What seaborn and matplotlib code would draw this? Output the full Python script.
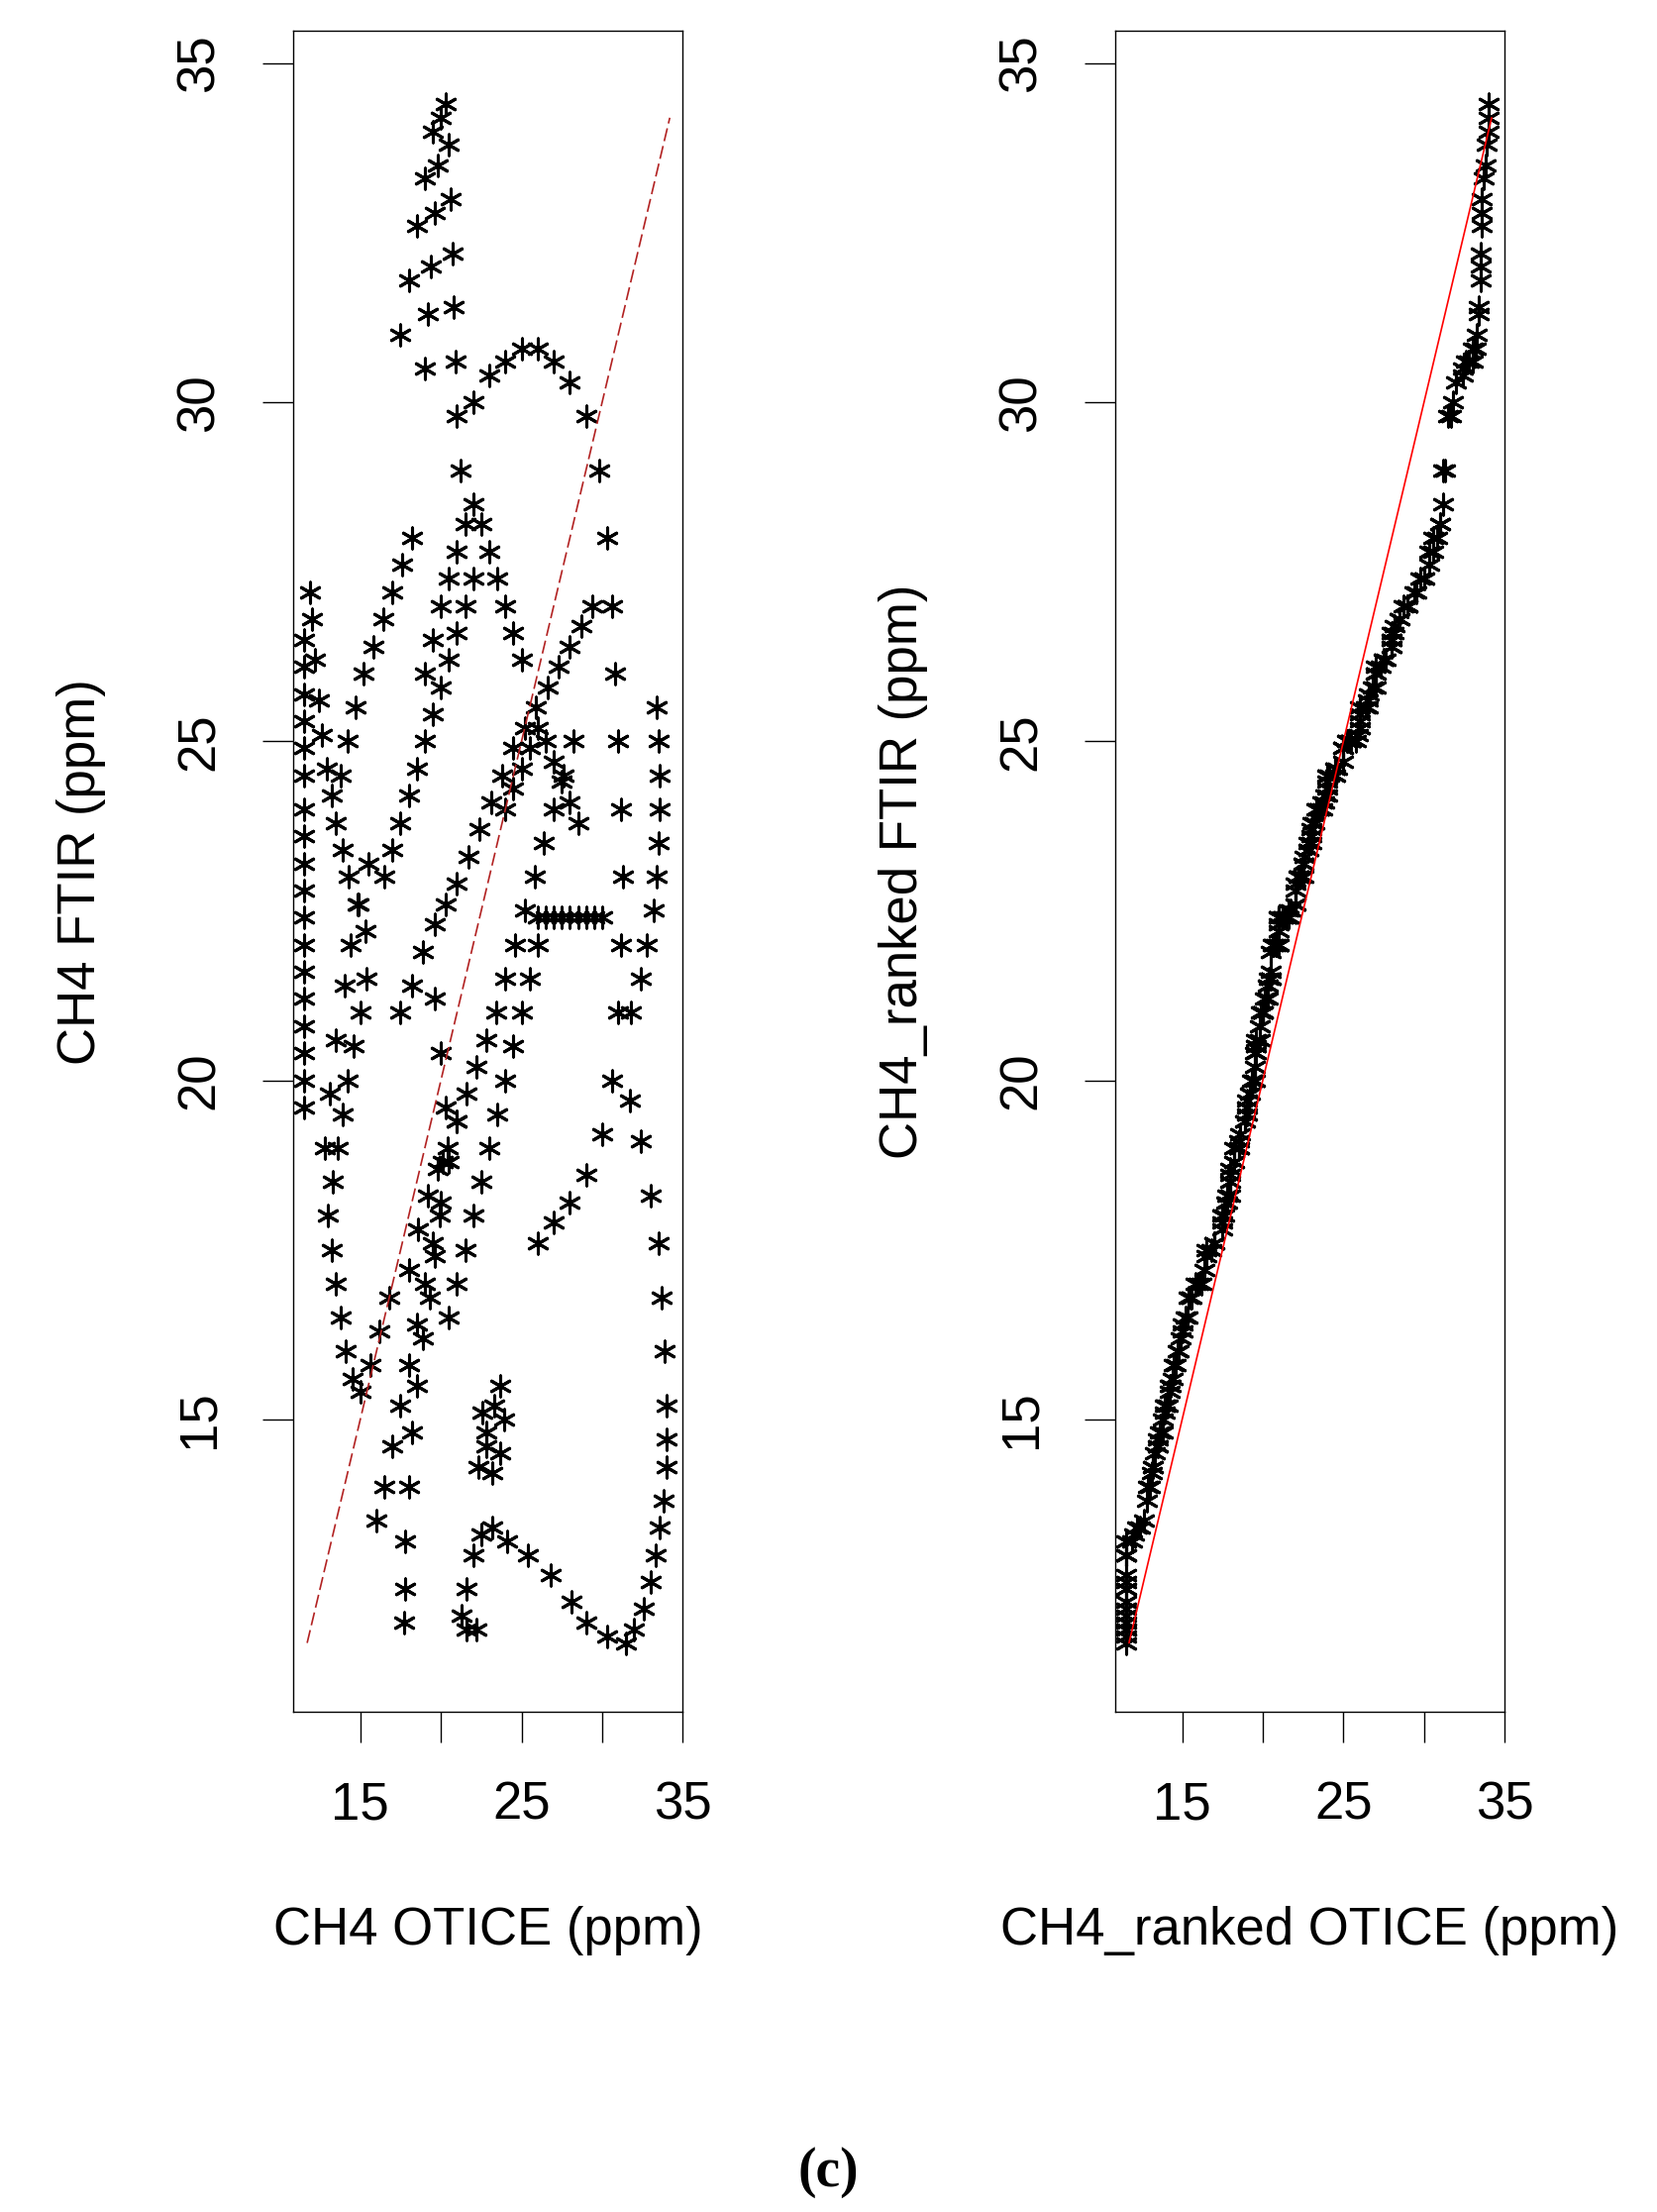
import numpy as np
import pandas as pd
import matplotlib
matplotlib.use("Agg")
import matplotlib.pyplot as plt
import seaborn as sns

sns.set_theme(style="white")
plt.rcParams['font.family'] = ['Liberation Sans', 'DejaVu Sans']
plt.rcParams['text.color'] = 'black'
plt.rcParams['axes.labelcolor'] = 'black'

# Observations (OTICE x, FTIR y) read along the trajectories of the scatter
otice = [
 11.5,11.5,11.5,11.5,11.5,11.5,11.5,11.5,11.5,11.5,11.5,11.5,11.5,11.5,11.5,11.5,11.5,11.5,
 11.9,12.0,12.2,12.4,12.6,12.9,13.2,13.5,13.9,14.3,14.8,15.3,
 17.5,18.0,18.5,19.0,19.5,19.0,19.2,19.4,19.6,19.8,20.0,20.3,20.5,20.6,20.7,20.8,20.9,21.0,21.2,
 22.0,23.0,24.0,25.0,26.0,27.0,28.0,29.0,29.8,30.3,30.6,30.8,31.0,31.2,31.3,31.2,31.0,30.6,30.0,29.0,28.0,27.0,26.0,
 33.4,33.5,33.6,33.6,33.5,33.4,33.2,32.8,32.4,31.8,
 31.7,32.4,33.0,33.5,33.7,33.9,34.0,34.0,34.0,33.8,33.6,33.3,33.0,32.6,32.0,31.5,30.3,
 29.0,28.1,26.8,25.4,24.1,23.2,22.5,22.0,21.6,21.3,21.6,22.2,
 17.7,17.8,17.8,18.0,18.2,18.5,18.9,19.3,19.6,19.9,20.1,20.3,20.0,19.6,
 22.3,22.8,23.3,23.7,23.9,23.7,23.2,22.8,22.6,
 13.0,13.3,13.6,13.9,14.2,14.6,15.0,15.4,13.2,13.5,13.8,14.1,14.5,15.0,15.6,16.2,16.8,12.8,13.1,13.5,14.0,14.4,14.9,15.5,
 13.8,14.2,14.7,15.2,15.8,16.4,17.0,17.6,18.2,
 18.0,18.6,19.2,19.8,20.4,21.0,21.6,22.2,22.8,23.4,24.0,24.6,25.2,25.8,26.4,27.0,27.6,28.2,
 17.5,18.2,18.9,19.6,20.3,21.0,21.7,22.4,23.1,23.8,24.5,25.2,25.9,26.6,27.3,28.0,28.7,29.4,
 19.0,19.5,20.0,20.5,21.0,21.5,22.0,22.5,23.0,23.5,24.0,24.5,25.0,
 26.0,26.5,27.0,27.5,28.0,28.5,29.0,29.5,30.0,
 20.5,21.0,21.5,22.0,22.5,23.0,23.5,24.0,24.5,25.0,25.5,26.0,
 16.0,16.5,17.0,17.5,18.0,18.5,19.0,19.5,20.0,20.5,21.0,
 24.0,24.5,25.0,25.5,26.0,26.5,27.0,27.5,28.0,28.5,
 16.5,17.0,17.5,18.0,18.5,19.0,19.5,20.0,20.5,21.0,21.5,22.0,
]
ftir = [
 26.5,26.1,25.7,25.3,24.9,24.5,24.0,23.6,23.2,22.8,22.4,22.0,21.6,21.2,20.8,20.4,20.0,19.6,
 27.2,26.8,26.2,25.6,25.1,24.6,24.2,23.8,23.4,23.0,22.6,22.2,
 31.0,31.8,32.6,33.3,34.0,30.5,31.3,32.0,32.8,33.5,34.2,34.4,33.8,33.0,32.2,31.4,30.6,29.8,29.0,
 30.0,30.4,30.6,30.8,30.8,30.6,30.3,29.8,29.0,28.0,27.0,26.0,25.0,24.0,23.0,22.0,21.0,20.0,19.2,18.6,18.2,17.9,17.6,
 25.5,25.0,24.5,24.0,23.5,23.0,22.5,22.0,21.5,21.0,
 19.7,19.1,18.3,17.6,16.8,16.0,15.2,14.7,14.3,13.8,13.4,13.0,12.6,12.2,11.9,11.7,11.8,
 12.0,12.3,12.7,13.0,13.2,13.4,13.3,13.0,12.5,12.1,11.9,11.9,
 12.0,12.5,13.2,14.0,14.8,15.5,16.2,16.8,17.4,18.0,18.8,19.6,20.4,21.2,
 14.3,14.8,15.2,15.5,15.0,14.5,14.2,14.6,15.1,
 18.0,18.5,19.0,19.5,20.0,20.5,21.0,21.5,17.5,17.0,16.5,16.0,15.6,15.4,15.8,16.3,16.8,19.0,19.8,20.6,21.4,22.0,22.6,23.2,
 24.5,25.0,25.5,26.0,26.4,26.8,27.2,27.6,28.0,
 17.2,17.8,18.3,18.7,19.0,19.4,19.8,20.2,20.6,21.0,21.5,22.0,22.5,23.0,23.5,24.0,24.5,25.0,
 21.0,21.4,21.9,22.3,22.6,22.9,23.3,23.7,24.1,24.5,24.9,25.2,25.5,25.8,26.1,26.4,26.7,27.0,
 26.0,26.5,27.0,27.4,27.8,28.2,28.5,28.2,27.8,27.4,27.0,26.6,26.2,
 22.4,22.4,22.4,22.4,22.4,22.4,22.4,22.4,22.4,
 16.5,17.0,17.5,18.0,18.5,19.0,19.5,20.0,20.5,21.0,21.5,22.0,
 13.5,14.0,14.6,15.2,15.8,16.4,17.0,17.6,18.2,18.8,19.4,
 24.0,24.3,24.6,24.9,25.2,25.0,24.7,24.4,24.1,23.8,
 23.0,23.4,23.8,24.2,24.6,25.0,25.4,25.8,26.2,26.6,27.0,27.4,
]
ranked_otice = np.sort(otice)
ranked_ftir = np.sort(ftir)

# 1:1 reference line range
line_range = [11.7, 34.2]

x_ticks = [15, 20, 25, 30, 35]
x_ticklabels = ["15", "", "25", "", "35"]
y_ticks = [15, 20, 25, 30, 35]

fig = plt.figure(figsize=(16.73, 22.33), dpi=100)
ax1 = fig.add_axes([0.177, 0.226, 0.235, 0.760])
ax2 = fig.add_axes([0.673, 0.226, 0.235, 0.760])

mk = (6, 2, 0)
sns.scatterplot(x=otice, y=ftir, ax=ax1, marker=mk, s=230, color="black", linewidth=2.2)
sns.scatterplot(x=ranked_otice, y=ranked_ftir, ax=ax2, marker=mk, s=230, color="black", linewidth=2.2)

ax1.plot(line_range, line_range, color="#b22222", ls=(0, (8, 3)), lw=1.2)
ax2.plot(line_range, line_range, color="red", lw=1.2)

for ax, xl, yl in [(ax1, "CH4 OTICE (ppm)", "CH4 FTIR (ppm)"),
                   (ax2, "CH4_ranked OTICE (ppm)", "CH4_ranked FTIR (ppm)")]:
    ax.set_xlim(10.84, 35.0)
    ax.set_ylim(10.68, 35.48)
    ax.set_xticks(x_ticks)
    ax.set_xticklabels(x_ticklabels)
    ax.set_yticks(y_ticks)
    ax.set_yticklabels([str(t) for t in y_ticks], rotation=90, va="center")
    ax.tick_params(axis="both", direction="out", length=22, width=1, labelsize=38,
                   pad=28, colors="black", bottom=True, left=True)
    for s in ax.spines.values():
        s.set_color("black"); s.set_linewidth(1)
    ax.set_xlabel(xl, fontsize=38, labelpad=55)
    ax.set_ylabel(yl, fontsize=38, labelpad=50)
    ax.grid(False)

fig.text(0.5, 0.018, "(c)", ha="center", va="center", fontsize=40,
         fontweight="bold", family=["Liberation Serif", "DejaVu Serif"])
fig.savefig("out.png", dpi=100, facecolor="white")
